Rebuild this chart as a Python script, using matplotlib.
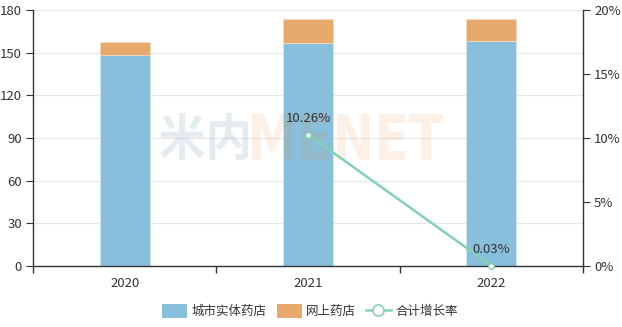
import matplotlib
matplotlib.use("Agg")
import matplotlib.pyplot as plt
from matplotlib.patches import Patch, PathPatch
from matplotlib.lines import Line2D
from matplotlib.textpath import TextPath
from matplotlib.font_manager import FontProperties
from matplotlib.transforms import Affine2D

plt.rcParams['font.family'] = ['Noto Sans CJK SC', 'DejaVu Sans']

# data
years = ['2020', '2021', '2022']
offline = [148.5, 156.5, 158.0]   # 城市实体药店
online = [9.0, 17.2, 15.7]        # 网上药店
growth_years = [1, 2]
growth = [10.26, 0.03]            # 合计增长率 (%)

blue = '#87bfdc'
orange = '#e8aa6c'
green = '#84d2b2'
txt = '#333333'

W, H = 622, 327
fig = plt.figure(figsize=(W / 100, H / 100), dpi=100)
ax = fig.add_axes([33 / W, 61 / H, 550 / W, 256 / H])

x = list(range(len(years)))
ax.bar(x, offline, width=0.273, color=blue, edgecolor='#d6ebf5', linewidth=0.5, zorder=2)
ax.bar(x, online, width=0.273, bottom=offline, color=orange, edgecolor='#f7dcc0', linewidth=0.5, zorder=2)

ax.set_xlim(-0.5, 2.5)
ax.set_ylim(0, 180)
ax.set_yticks(range(0, 181, 30))
ax.grid(axis='y', color='#e6e6e6', linewidth=0.8, zorder=0)
ax.set_axisbelow(True)

# category boundaries carry the tick marks, centres carry the labels
ax.set_xticks([-0.5, 0.5, 1.5, 2.5])
ax.set_xticklabels([])
ax.set_xticks(x, minor=True)
ax.set_xticklabels(years, minor=True)
ax.tick_params(axis='x', which='major', length=5, color=txt, width=1)
ax.tick_params(axis='x', which='minor', length=0, pad=8, labelsize=9.5, labelcolor=txt)
ax.tick_params(axis='y', length=5, color=txt, labelsize=9.5, labelcolor=txt, pad=3)

for s in ['top', 'right']:
    ax.spines[s].set_visible(False)
for s in ['left', 'bottom']:
    ax.spines[s].set_color(txt)
    ax.spines[s].set_linewidth(1)

ax2 = ax.twinx()
ax2.set_ylim(0, 20)
ax2.set_yticks(range(0, 21, 5))
ax2.set_yticklabels([f'{v}%' for v in range(0, 21, 5)])
ax2.tick_params(axis='y', length=5, color=txt, labelsize=9.5, labelcolor=txt, pad=3)
for s in ['top', 'left', 'bottom']:
    ax2.spines[s].set_visible(False)
ax2.spines['right'].set_color(txt)
ax2.spines['right'].set_linewidth(1)


def watermark(text, family, box, color, alpha):
    """Squeeze a text path into a box given in figure pixels (x0, y0_top, x1, y1_bottom)."""
    tp = TextPath((0, 0), text, size=100, prop=FontProperties(family=family, weight='bold'))
    ext = tp.get_extents()
    x0, y0, x1, y1 = box
    sx = (x1 - x0) / ext.width
    sy = (y1 - y0) / ext.height
    tr = (Affine2D().translate(-ext.x0, -ext.y0).scale(sx, sy)
          .translate(x0, H - y1).scale(1 / W, 1 / H) + fig.transFigure)
    ax2.add_patch(PathPatch(tp, transform=tr, facecolor=color, edgecolor='none',
                            alpha=alpha, zorder=1, clip_on=False))


# watermark, over the bars but under the line and labels
watermark('米内', 'Noto Sans CJK SC', (160, 113, 248, 160), '#7fa0b8', 0.2)
watermark('MENET', 'DejaVu Sans', (252, 114, 443, 160), '#f08a3a', 0.12)

ax2.plot(growth_years, growth, color=green, linewidth=1.8, marker='o', markersize=4,
         markerfacecolor='white', markeredgecolor=green, markeredgewidth=1, zorder=5,
         clip_on=False)
for gx, gy in zip(growth_years, growth):
    ax2.annotate(f'{gy:.2f}%', (gx, gy), xytext=(0, 7), textcoords='offset points',
                 ha='center', va='bottom', fontsize=9.5, color=txt, zorder=6)

handles = [
    Patch(facecolor=blue, edgecolor='none'),
    Patch(facecolor=orange, edgecolor='none'),
    Line2D([], [], color=green, linewidth=1.8, marker='o', markersize=8,
           markerfacecolor='white', markeredgecolor=green, markeredgewidth=1.2),
]
fig.legend(handles, ['城市实体药店', '网上药店', '合计增长率'], loc='center',
           bbox_to_anchor=(310 / W, 0.048), ncol=3, frameon=False, fontsize=9,
           handlelength=2.0, handleheight=1.3, handletextpad=0.35, columnspacing=0.8,
           labelcolor=txt)

fig.savefig('out.png', dpi=100)
